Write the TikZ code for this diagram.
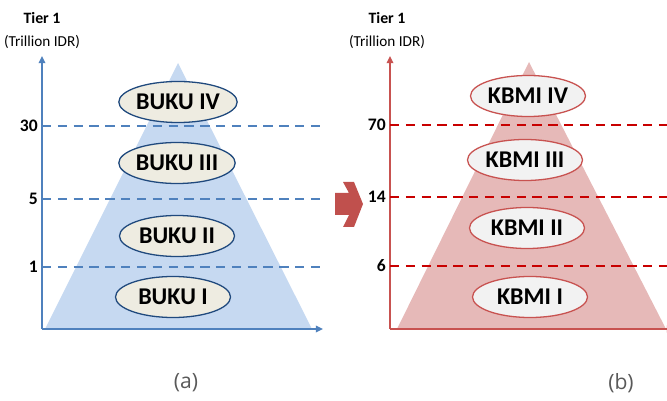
\documentclass[tikz,border=0pt]{standalone}
\usepackage{fontspec}
\setmainfont{Carlito}
\newfontfamily\capfont{Open Sans}
\usetikzlibrary{shapes.geometric,arrows.meta}

\definecolor{bukuaxis}{RGB}{79,129,189}
\definecolor{bukufill}{RGB}{198,217,241}
\definecolor{bukuring}{RGB}{31,73,125}
\definecolor{bukucream}{RGB}{238,236,225}
\definecolor{kbmiaxis}{RGB}{200,82,80}
\definecolor{kbmidash}{RGB}{200,0,0}
\definecolor{kbmifill}{RGB}{230,185,184}
\definecolor{kbmigrey}{RGB}{242,242,242}
\definecolor{shiftred}{RGB}{192,80,77}
\definecolor{capgrey}{RGB}{89,89,89}

\begin{document}
\begin{tikzpicture}[x=0.03cm,y=-0.03cm,
  every node/.append style={inner sep=0pt},
  tier/.style={ellipse,draw,line width=1.1pt,minimum width=3.45cm,minimum height=1.23cm,
    font=\fontsize{20.5}{20}\selectfont\bfseries},
  axis/.style={line width=1.6pt,-{Triangle[length=6pt,width=5.5pt]}},
  level/.style={dashed,line width=1.6pt,dash pattern=on 8pt off 5.5pt},
  tick/.style={anchor=east,font=\fontsize{15}{15}\selectfont\bfseries},
  head/.style={font=\fontsize{13.5}{13}\selectfont\bfseries},
  unit/.style={font=\fontsize{13}{13}\selectfont},
  panelcap/.style={text=capgrey,font=\capfont\fontsize{18}{18}\selectfont}]
\useasboundingbox (0,0) rectangle (667,401);

% (a) BUKU tiers
\fill [bukufill] (45,329) -- (178,63) -- (312,329) -- cycle;
\coordinate (o1) at (42,329);
\coordinate (y1) at (42,56);
\coordinate (x1) at (323,329);
\draw [axis,bukuaxis] (o1) -- (y1);
\draw [axis,bukuaxis] (o1) -- (x1);
\node [head] (tierA) at (42,18) {Tier 1};
\node [unit] (unitA) at (42,42) {(Trillion IDR)};
\foreach \v/\y in {30/126,5/199,1/267}{
  \node [tick] (b\v) at (38,\y) {\v};
  \draw [level,bukuaxis] (42,\y) -- (326,\y);
}
\foreach \n/\r/\x/\y in {4/IV/178/102,3/III/177/163,2/II/177/236,1/I/173/297}
  \node [tier,draw=bukuring,fill=bukucream] (buku\n) at (\x,\y) {BUKU \r};
\node [panelcap] (capA) at (186,383) {(a)};

% shift arrow
\fill [shiftred] (335,193) -- (349,193) -- (343,182) -- (354,182) -- (363,204)
  -- (354,227) -- (343,227) -- (349,215) -- (335,215) -- cycle;

% (b) KBMI tiers
\fill [kbmifill] (397,329) -- (529,62) -- (666,329) -- cycle;
\coordinate (o2) at (390,329);
\coordinate (y2) at (390,56);
\coordinate (x2) at (674,329);
\draw [axis,kbmiaxis] (o2) -- (y2);
\draw [axis,kbmiaxis] (o2) -- (x2);
\node [head] (tierB) at (387,18) {Tier 1};
\node [unit] (unitB) at (387,42) {(Trillion IDR)};
\foreach \v/\y in {70/125,14/197,6/266}{
  \node [tick] (k\v) at (386,\y) {\v};
  \draw [level,kbmidash] (390,\y) -- (670,\y);
}
\foreach \n/\r/\x/\y in {4/IV/528/96,3/III/525/160,2/II/527/228,1/I/530/297}
  \node [tier,draw=kbmiaxis,fill=kbmigrey] (kbmi\n) at (\x,\y) {KBMI \r};
\node [panelcap] (capB) at (621,383) {(b)};
\end{tikzpicture}
\end{document}
